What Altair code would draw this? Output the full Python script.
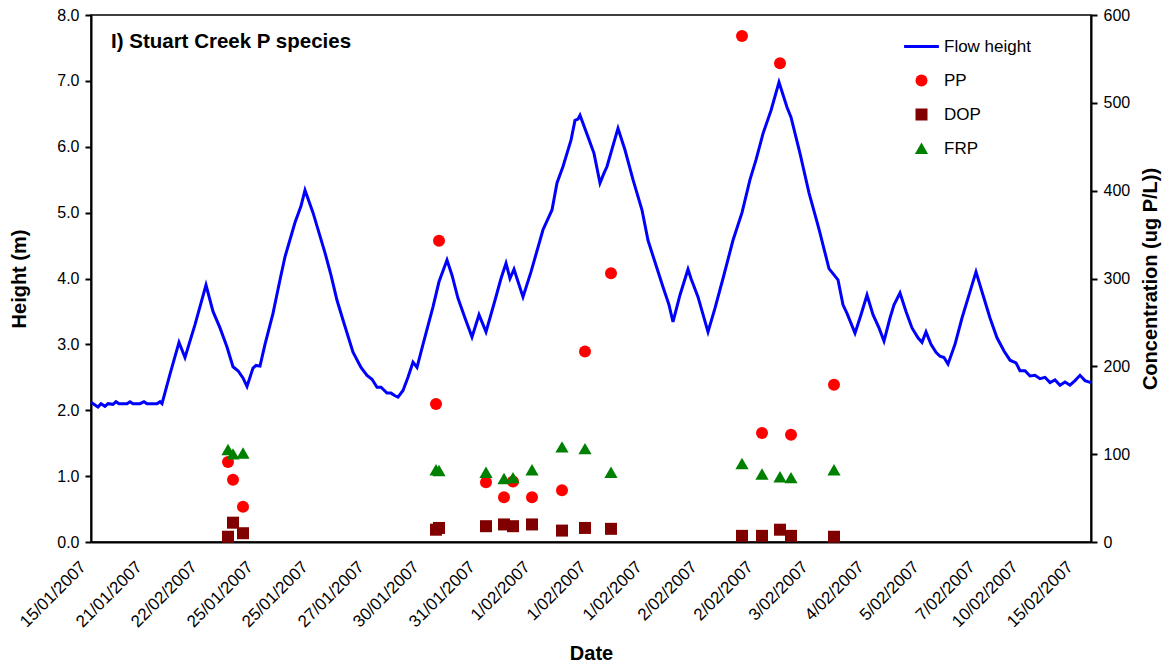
import altair as alt
import pandas as pd

FONT = "Liberation Sans"

# ---------------- data ----------------
# x axis: record index along the logger series (0 .. 1000)
tick_pos = [0, 56, 111, 167, 222, 278, 333, 389, 444, 500, 556, 611, 667, 722, 778, 833, 889, 932, 987]
tick_labels = ["15/01/2007", "21/01/2007", "22/02/2007", "25/01/2007", "25/01/2007", "27/01/2007",
               "30/01/2007", "31/01/2007", "1/02/2007", "1/02/2007", "1/02/2007", "2/02/2007",
               "2/02/2007", "3/02/2007", "4/02/2007", "5/02/2007", "7/02/2007", "10/02/2007", "15/02/2007"]

line_x = [0, 4, 7, 10, 14, 17, 22, 25, 28, 36, 39, 42, 49, 53, 56, 66, 69, 71,
          79, 88, 94, 104, 115, 122, 129, 136, 142, 147, 152, 156, 162, 165, 169, 174, 182, 189, 194,
          204, 210, 214, 222, 234, 240, 246, 252, 262, 270, 276, 281, 286, 290, 296, 300, 304, 307,
          312, 317, 322, 326, 332, 342, 348, 356, 361, 367, 374, 381, 388, 395, 404, 410, 415, 419,
          423, 432, 440, 452, 461, 466, 472, 480, 484, 487, 489, 497, 503, 509, 513, 516, 527, 534,
          542, 551, 557, 565, 572, 578, 582, 589, 597, 600, 607, 617, 624, 632, 642, 651, 659, 665,
          672, 680, 688, 696, 700, 709, 718, 728, 738, 747, 752, 756, 764, 770, 776, 782, 788, 793,
          799, 803, 809, 815, 821, 827, 831, 835, 840, 845, 849, 853, 857, 864, 871, 879, 885, 892,
          899, 906, 913, 919, 925, 929, 934, 939, 944, 949, 954, 959, 964, 969, 974, 979, 984, 989,
          994, 1000]
line_h = [2.12, 2.08, 2.05, 2.10, 2.06, 2.10, 2.09, 2.13, 2.10, 2.10, 2.13, 2.10, 2.10, 2.13, 2.10, 2.10, 2.13, 2.10,
          2.55, 3.03, 2.80, 3.30, 3.90, 3.50, 3.25, 2.96, 2.66, 2.60, 2.49, 2.36, 2.64, 2.68, 2.67, 3.00, 3.47, 3.98, 4.33,
          4.85, 5.10, 5.34, 5.00, 4.39, 4.05, 3.67, 3.37, 2.88, 2.65, 2.53, 2.47, 2.35, 2.35, 2.26, 2.26, 2.22, 2.20,
          2.30, 2.50, 2.73, 2.65, 3.00, 3.57, 3.95, 4.28, 4.05, 3.70, 3.40, 3.11, 3.45, 3.19, 3.67, 4.00, 4.23, 4.00,
          4.14, 3.72, 4.10, 4.74, 5.04, 5.45, 5.70, 6.10, 6.40, 6.42, 6.48, 6.15, 5.90, 5.45, 5.60, 5.70, 6.28, 5.95,
          5.50, 5.04, 4.58, 4.20, 3.87, 3.60, 3.34, 3.75, 4.14, 4.00, 3.72, 3.19, 3.55, 4.00, 4.58, 5.00, 5.50, 5.80,
          6.20, 6.55, 6.98, 6.60, 6.45, 5.90, 5.30, 4.75, 4.15, 3.98, 3.60, 3.47, 3.17, 3.45, 3.75, 3.45, 3.25, 3.05,
          3.40, 3.60, 3.78, 3.50, 3.25, 3.10, 3.03, 3.19, 3.00, 2.88, 2.82, 2.80, 2.70, 3.00, 3.40, 3.80, 4.10, 3.75,
          3.40, 3.10, 2.90, 2.76, 2.72, 2.60, 2.60, 2.52, 2.53, 2.48, 2.50, 2.42, 2.46, 2.38, 2.43, 2.38, 2.45, 2.53,
          2.45, 2.42]

sample_x = [137, 142, 152, 345, 348, 395, 413, 422, 441, 471, 494, 520, 651, 671, 689, 700, 743]
pp = [91, 71, 40, 157, 343, 68, 51, 69, 51, 59, 217, 306, 576, 124, 545, 122, 179]
dop = [6, 22, 10, 14, 16, 18, 20, 18, 20, 13, 16, 15, 7, 7, 14, 7, 6]
frp = [105, 100, 101, 82, 81, 79, 72, 73, 82, 108, 106, 79, 89, 77, 74, 73, 82]

legend_names = ["Flow height", "PP", "DOP", "FRP"]
legend_colors = ["#0000FF", "#FF0000", "#800000", "#008000"]
legend_shapes = ["M-2.9,-0.25H2.9V0.25H-2.9Z", "circle", "square", "M0,-1L1.1,0.9L-1.1,0.9Z"]

chart_title = "I) Stuart Creek P species"

# ---------------- frames ----------------
line_df = pd.DataFrame({"idx": line_x, "height": line_h})
pts_df = pd.concat([
    pd.DataFrame({"idx": sample_x, "series": name, "conc": vals})
    for name, vals in [("PP", pp), ("DOP", dop), ("FRP", frp)]
], ignore_index=True)
title_df = pd.DataFrame({"t": [chart_title]})

label_expr = "{}[indexof({}, datum.value)]".format(
    "[" + ",".join("'" + s + "'" for s in tick_labels) + "]",
    "[" + ",".join(str(v) for v in tick_pos) + "]",
)

xscale = alt.Scale(domain=[0, 1000], nice=False, zero=False)

x_axis = alt.Axis(
    values=tick_pos, labelExpr=label_expr, labelAngle=315, labelAlign="right",
    labelBaseline="middle", labelPadding=22, labelOffset=-8, labelFontSize=17,
    ticks=False, tickSize=0,
    labelOverlap=False, labelFlush=False, labelBound=False,
    title="Date", titleY=117, titleBaseline="alphabetic", titleAlign="center",
    grid=False,
)

left_axis = alt.Axis(
    orient="left", values=list(range(9)), format=".1f", title="Height (m)",
    titleAngle=270, titleX=-66, titleY=263.5, titleBaseline="alphabetic", titleAlign="center",
    tickSize=6, labelPadding=6, grid=False,
)

right_axis = alt.Axis(
    orient="right", values=[0, 100, 200, 300, 400, 500, 600], format="d",
    title="Concentration (ug P/L))",
    titleAngle=270, titleX=65, titleY=263.5, titleBaseline="alphabetic", titleAlign="center",
    tickSize=6, labelPadding=6, grid=False,
)

legend = alt.Legend(
    orient="none", legendX=822, legendY=23, title=None,
    labelFont=FONT, labelFontSize=17, labelColor="black",
    symbolSize=144, symbolStrokeWidth=0, rowPadding=16, labelOffset=14, padding=0,
)

line = alt.Chart(line_df).mark_line(color="#0000FF", strokeWidth=3).encode(
    x=alt.X("idx:Q", scale=xscale, axis=x_axis),
    y=alt.Y("height:Q", scale=alt.Scale(domain=[0, 8], nice=False, zero=True), axis=left_axis),
)

points = alt.Chart(pts_df).mark_point(filled=True, size=144, opacity=1).encode(
    x=alt.X("idx:Q", scale=xscale, axis=x_axis),
    y=alt.Y("conc:Q", scale=alt.Scale(domain=[0, 600], nice=False, zero=True), axis=right_axis),
    color=alt.Color("series:N", scale=alt.Scale(domain=legend_names, range=legend_colors), legend=legend),
    shape=alt.Shape("series:N", scale=alt.Scale(domain=legend_names, range=legend_shapes), legend=legend),
)

title_txt = alt.Chart(title_df).mark_text(
    align="left", baseline="alphabetic", font=FONT, fontSize=20.5, fontWeight="bold", color="black"
).encode(text="t:N", x=alt.value(20), y=alt.value(33))

chart = (
    alt.layer(line, points, title_txt)
    .resolve_scale(y="independent")
    .properties(
        width=1000, height=527,
        autosize=alt.AutoSizeParams(type="none"),
        padding={"left": 91, "top": 15, "right": 80, "bottom": 122},
        background="white",
    )
    .configure_view(stroke="black", strokeWidth=1.5)
    .configure_axis(
        labelFont=FONT, labelFontSize=16, labelColor="black",
        titleFont=FONT, titleFontSize=20, titleFontWeight="bold", titleColor="black",
        domainColor="black", domainWidth=2, tickColor="black", tickWidth=2,
    )
)

chart.save("out.html", embed_options={"renderer": "svg", "actions": False})
